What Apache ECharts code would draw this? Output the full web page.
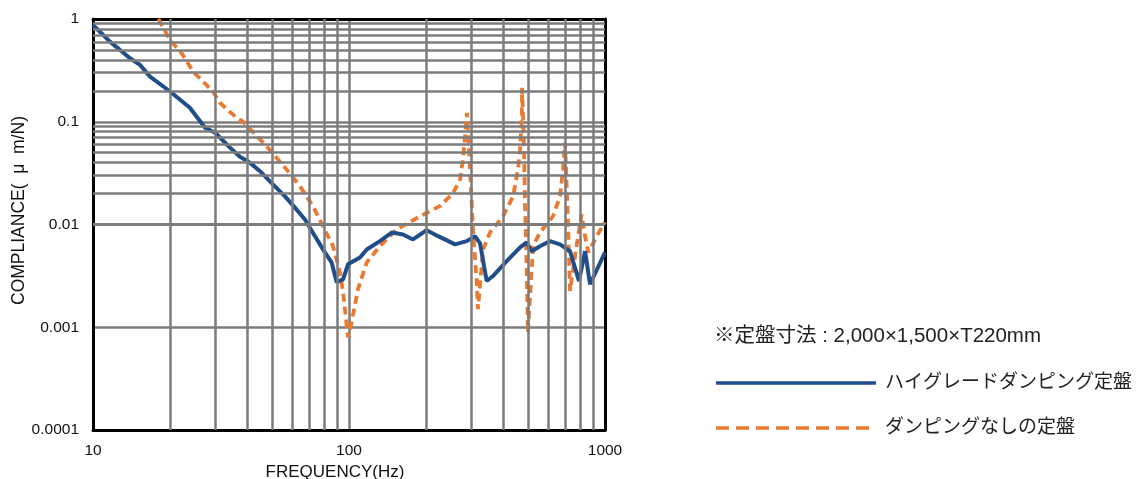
<!DOCTYPE html>
<html>
<head>
<meta charset="utf-8">
<script src="https://cdn.jsdelivr.net/npm/echarts@6/dist/echarts.min.js"></script>
<style>
html,body{margin:0;padding:0;background:#fff;}
#chart{width:1141px;height:479px;}
</style>
</head>
<body>
<div id="chart"></div>
<script>
// ---- data ----
const seriesNames = ['ハイグレードダンピング定盤', 'ダンピングなしの定盤'];
const noteText = '※定盤寸法 : 2,000×1,500×T220mm';
const xAxisName = 'FREQUENCY(Hz)';
const yAxisName = 'COMPLIANCE(  μ  m/N)';
const xTickLabels = ['10', '100', '1000'];
const yTickLabels = ['0.0001', '0.001', '0.01', '0.1', '1'];
const minorMantissas = [2, 3, 4, 5, 6, 7, 8, 9];
const xDecades = [10, 100];
const yDecades = [0.0001, 0.001, 0.01, 0.1];

const freqBlue = [10, 11.65, 13.95, 15.26, 16.7, 20.0, 23.9, 27.4, 30.0, 34.3, 37.5, 41.0, 44.9, 49.1, 56.2, 61.5, 67.3, 73.6, 80.5, 85.5, 89.5, 94.8, 99.1, 110.4, 117.3, 132, 146.8, 162.6, 177.8, 201, 223, 259.5, 288.4, 310.6, 325, 345, 365, 413, 466, 494.5, 517.6, 557, 609.7, 667, 730, 791, 836, 874, 1000];
const compBlue = [0.874, 0.602, 0.415, 0.358, 0.275, 0.197, 0.137, 0.0875, 0.0782, 0.056, 0.0457, 0.040, 0.033, 0.0263, 0.0188, 0.0146, 0.0112, 0.0077, 0.00535, 0.00428, 0.00274, 0.00292, 0.0041, 0.00478, 0.00571, 0.00689, 0.00835, 0.0080, 0.00715, 0.0088, 0.0077, 0.0064, 0.00689, 0.0077, 0.00654, 0.00282, 0.00315, 0.0044, 0.00598, 0.00669, 0.0055, 0.00615, 0.00689, 0.0064, 0.0055, 0.00282, 0.0055, 0.00262, 0.00535];

const freqOrange = [18.0, 20.0, 22.2, 24.6, 29.4, 31.3, 36.4, 38.5, 47.7, 57.1, 64.4, 72.3, 79.1, 86.6, 92.2, 94.8, 99.1, 102.4, 108.4, 117.3, 132, 153.6, 189.3, 226.5, 254.5, 271.5, 278.6, 284, 289, 297, 305, 315.6, 319, 334, 355.5, 399.7, 437.6, 457, 465.7, 473, 474.5, 483, 487, 494.5, 500, 523.6, 557, 626.5, 667, 685.5, 698, 716.6, 730, 774, 810.6, 835.5, 861, 928, 1000];
const compOrange = [1.0, 0.625, 0.465, 0.308, 0.197, 0.153, 0.109, 0.1006, 0.0576, 0.0342, 0.0235, 0.0151, 0.00963, 0.00615, 0.00342, 0.00219, 0.0008, 0.00112, 0.00234, 0.00428, 0.00615, 0.00894, 0.0120, 0.0151, 0.020, 0.0274, 0.0428, 0.072, 0.122, 0.0342, 0.00894, 0.00274, 0.0015, 0.00571, 0.00836, 0.012, 0.0188, 0.0342, 0.0535, 0.105, 0.214, 0.0535, 0.0164, 0.00366, 0.00089, 0.00615, 0.00836, 0.012, 0.0188, 0.0342, 0.0625, 0.0112, 0.00225, 0.00615, 0.0125, 0.0077, 0.00535, 0.0077, 0.0105];

// ---- build ----
const FONT = "'Liberation Sans', Arial, 'Noto Sans CJK JP', sans-serif";
const BLUE = '#1F4E89';
const ORANGE = '#EA7A30';
const GRID = '#7c7c7c';

const pairs = (xs, ys) => xs.map((x, i) => [x, ys[i]]);
const gridLines = [];
xDecades.forEach(d => minorMantissas.forEach(m => gridLines.push({ xAxis: m * d })));
yDecades.forEach(d => minorMantissas.forEach(m => gridLines.push({ yAxis: m * d })));

const chart = echarts.init(document.getElementById('chart'), null, { renderer: 'canvas' });
const baseX = { type: 'log', logBase: 10, min: 10, max: 1000, axisTick: { show: false } };
const baseY = { type: 'log', logBase: 10, min: 0.0001, max: 1, axisTick: { show: false } };

// legend drawn as graphic elements
const legendX = 716, legendLineW = 160, legendTextX = 885;
const legendRows = [383, 428];
const legendGraphics = [
  { type: 'text', left: 714, top: 326,
    style: { text: noteText, fontSize: 20.5, fill: '#222', fontFamily: FONT } },
  { type: 'line', shape: { x1: legendX, y1: legendRows[0], x2: legendX + legendLineW, y2: legendRows[0] },
    style: { stroke: BLUE, lineWidth: 3.5 } },
  { type: 'text', x: legendTextX, y: legendRows[0],
    style: { text: seriesNames[0], fontSize: 19, fill: '#222', fontFamily: FONT, verticalAlign: 'middle', align: 'left' } },
  { type: 'line', shape: { x1: legendX, y1: legendRows[1], x2: legendX + legendLineW, y2: legendRows[1] },
    style: { stroke: ORANGE, lineWidth: 3.5, lineDash: [13, 7] } },
  { type: 'text', x: legendTextX, y: legendRows[1],
    style: { text: seriesNames[1], fontSize: 19, fill: '#222', fontFamily: FONT, verticalAlign: 'middle', align: 'left' } }
];

chart.setOption({
  animation: false,
  backgroundColor: '#fff',
  textStyle: { fontFamily: FONT },
  grid: { left: 93, top: 19, width: 512, height: 411, containLabel: false, outerBoundsMode: 'none' },
  xAxis: [
    Object.assign({}, baseX, {
      position: 'bottom',
      name: xAxisName, nameLocation: 'middle', nameGap: 33,
      nameTextStyle: { fontSize: 17, color: '#111', fontFamily: FONT, padding: [0, 28, 0, 0] },
      axisLine: { show: true, lineStyle: { color: '#000', width: 3 } },
      axisLabel: {
        fontSize: 15.5, color: '#111', margin: 13, fontFamily: FONT,
        formatter: v => xTickLabels[Math.round(Math.log10(v)) - 1]
      },
      splitLine: { show: true, lineStyle: { color: GRID, width: 2.5 } }
    }),
    Object.assign({}, baseX, {
      position: 'top',
      axisLine: { show: true, lineStyle: { color: '#000', width: 3 } },
      axisLabel: { show: false }, splitLine: { show: false }
    })
  ],
  yAxis: [
    Object.assign({}, baseY, {
      position: 'left',
      name: yAxisName, nameLocation: 'middle', nameGap: 65, nameRotate: 90,
      nameTextStyle: { fontSize: 17.5, color: '#111', fontFamily: FONT, padding: [0, 0, 0, 28] },
      axisLine: { show: true, lineStyle: { color: '#000', width: 3 } },
      axisLabel: {
        fontSize: 15.5, color: '#111', margin: 14, fontFamily: FONT,
        formatter: v => yTickLabels[Math.round(Math.log10(v)) + 4]
      },
      splitLine: { show: true, lineStyle: { color: GRID, width: 2.5 } }
    }),
    Object.assign({}, baseY, {
      position: 'right',
      axisLine: { show: true, lineStyle: { color: '#000', width: 3 } },
      axisLabel: { show: false }, splitLine: { show: false }
    })
  ],
  graphic: legendGraphics,
  series: [
    {
      name: 'grid-minor', type: 'line', data: [], z: 1, silent: true,
      markLine: {
        silent: true, symbol: ['none', 'none'], label: { show: false },
        lineStyle: { color: GRID, width: 2.5, type: 'solid' },
        emphasis: { disabled: true },
        data: gridLines, animation: false
      }
    },
    {
      name: seriesNames[0], type: 'line', z: 4,
      data: pairs(freqBlue, compBlue),
      showSymbol: false, symbol: 'none', smooth: false,
      lineStyle: { color: BLUE, width: 4 }, itemStyle: { color: BLUE }
    },
    {
      name: seriesNames[1], type: 'line', z: 3,
      data: pairs(freqOrange, compOrange),
      showSymbol: false, symbol: 'none', smooth: false,
      lineStyle: { color: ORANGE, width: 3.8, type: [8, 5] }, itemStyle: { color: ORANGE }
    }
  ]
});
</script>
</body>
</html>
